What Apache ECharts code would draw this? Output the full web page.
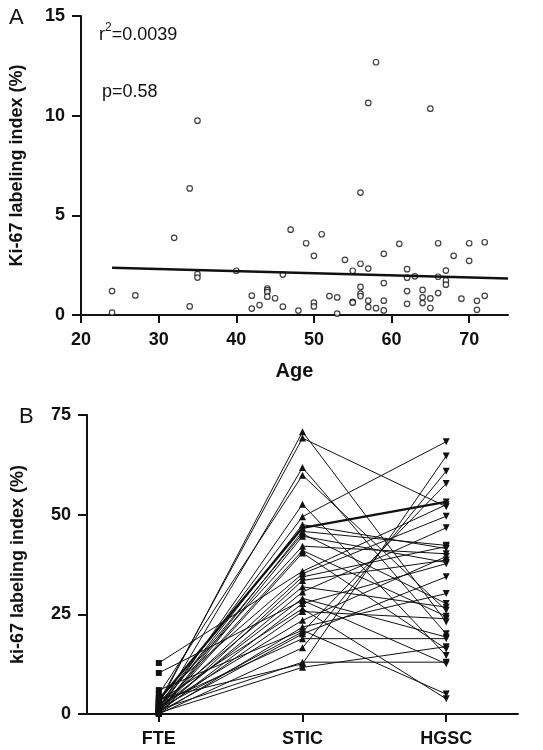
<!DOCTYPE html>
<html>
<head>
<meta charset="utf-8">
<script src="https://cdn.jsdelivr.net/npm/echarts@6/dist/echarts.min.js"></script>
<style>
html,body{margin:0;padding:0;background:#fff;}
#chart{width:543px;height:750px;}
</style>
</head>
<body>
<div id="chart"></div>
<script>
// ---------- Panel A data ----------
const ages = [24,24,27,32,34,34,35,35,35,40,
  42,42,43,44,44,44,44,45,46,46,
  47,48,49,50,50,50,51,52,53,53,
  54,55,55,55,56,56,56,56,56,57,57,57,57,
  58,58,59,59,59,59,61,62,62,62,62,63,
  64,64,64,65,65,65,66,66,66,67,67,67,
  68,69,70,70,71,71,72,72];
const kiA = [1.2,0.12,0.98,3.87,6.35,0.43,9.75,2.05,1.88,2.22,
  0.97,0.32,0.5,1.33,1.25,1.15,0.92,0.84,2.03,0.42,
  4.28,0.22,3.6,2.97,0.62,0.43,4.05,0.95,0.88,0.07,
  2.77,2.22,0.66,0.62,2.57,1.41,1.07,0.95,6.14,2.33,10.64,0.72,0.4,
  12.68,0.34,3.07,1.6,0.72,0.23,3.57,2.3,1.87,1.2,0.56,1.94,
  1.26,0.88,0.6,10.35,0.83,0.35,3.6,1.92,1.1,2.23,1.73,1.52,
  2.97,0.82,3.6,2.72,0.71,0.26,3.65,0.96];
const regAge = [24, 75];
const regVal = [2.37, 1.83];
const ticksAX = [20,30,40,50,60,70];
const ticksAY = [0,5,10,15];
const statR2 = '0.0039';
const statP = '0.58';

// ---------- Panel B data ----------
const categoriesB = ['FTE','STIC','HGSC'];
const fte  = [2.4,3.0,1.2,5.0,0.8,2.0,1.5,3.5,0.5,1.9,0.3,2.8,1.0,0.6,12.8,4.2,1.3,0.2,2.2,0.9,1.6,10.3,0.4,3.2,0.7,1.8,0.1,6.0,1.4,0.5,2.6,0.0,1.1,3.8,0.3];
const stic = [70.8,69.2,61.8,59.9,52.6,49.5,47.5,46.7,45.8,45.2,44.6,42.1,41.0,40.4,35.8,35.2,34.4,33.5,31.9,30.6,29.0,28.5,27.7,26.4,25.7,23.5,21.8,21.0,20.6,20.1,18.9,16.6,13.0,12.6,11.7];
const hgsc = [23.1,52.0,20.1,26.0,14.7,68.3,41.5,53.2,42.3,27.7,38.0,40.2,24.5,16.3,52.5,49.6,42.0,38.6,26.8,46.7,19.3,12.6,37.7,3.8,23.9,39.5,30.2,5.0,57.8,34.4,18.9,60.9,13.0,64.7,16.9];
const ticksBY = [0,25,50,75];

const FONT = 'Liberation Sans, Arial, sans-serif';
const INK = '#111';

const seriesB = fte.map((f, i) => ({
  type: 'line',
  xAxisIndex: 1, yAxisIndex: 1,
  silent: true,
  showSymbol: true,
  showAllSymbol: true,
  lineStyle: { color: INK, width: i === 7 ? 2.2 : 1 },
  itemStyle: { color: INK },
  z: 3,
  data: [
    { value: f, symbol: 'rect', symbolSize: 6 },
    { value: stic[i], symbol: 'triangle', symbolSize: 7 },
    { value: hgsc[i], symbol: 'triangle', symbolSize: 7, symbolRotate: 180 }
  ]
}));

const option = {
  animation: false,
  backgroundColor: '#fff',
  textStyle: { fontFamily: FONT },
  title: [
    { text: 'A', left: 4, top: 2, textStyle: { fontFamily: FONT, fontSize: 22, fontWeight: 'normal', color: INK } },
    { text: 'B', left: 14, top: 401, textStyle: { fontFamily: FONT, fontSize: 22, fontWeight: 'normal', color: INK } },
    { text: '{a|r}{s|2}{a|=' + statR2 + '}', left: 94, top: 17,
      textStyle: { fontWeight: 'normal', rich: {
        a: { fontFamily: FONT, fontSize: 18, fontWeight: 'normal', color: INK, lineHeight: 22, verticalAlign: 'bottom' },
        s: { fontFamily: FONT, fontSize: 12, fontWeight: 'normal', color: INK, lineHeight: 22, verticalAlign: 'top' } } } },
    { text: 'p=' + statP, left: 97, top: 78, textStyle: { fontFamily: FONT, fontSize: 18, fontWeight: 'normal', color: INK } }
  ],
  grid: [
    { left: 77, top: 16, width: 431, height: 299 },
    { left: 87, top: 415, width: 431, height: 299 }
  ],
  xAxis: [
    { type: 'value', gridIndex: 0, min: 20, max: 75, interval: 10,
      name: 'Age', nameLocation: 'middle', nameGap: 46,
      nameTextStyle: { fontFamily: FONT, fontSize: 20, fontWeight: 'bold', color: INK },
      axisLine: { show: true, onZero: false, lineStyle: { color: INK, width: 2 } },
      axisTick: { show: true, length: 8, lineStyle: { color: INK, width: 2 }, customValues: ticksAX },
      axisLabel: { margin: 16, fontFamily: FONT, fontSize: 18, fontWeight: 'bold', color: INK, customValues: ticksAX },
      splitLine: { show: false } },
    { type: 'category', gridIndex: 1, data: categoriesB, boundaryGap: true,
      axisLine: { show: true, onZero: false, lineStyle: { color: INK, width: 2 } },
      axisTick: { show: true, alignWithLabel: true, length: 8, lineStyle: { color: INK, width: 2 } },
      axisLabel: { margin: 16, fontFamily: FONT, fontSize: 18, fontWeight: 'bold', color: INK },
      splitLine: { show: false } }
  ],
  yAxis: [
    { type: 'value', gridIndex: 0, min: 0, max: 15, interval: 5,
      name: 'Ki-67 labeling index (%)', nameLocation: 'middle', nameGap: 55,
      nameTextStyle: { fontFamily: FONT, fontSize: 18, fontWeight: 'bold', color: INK },
      axisLine: { show: true, lineStyle: { color: INK, width: 2 } },
      axisTick: { show: true, length: 9, lineStyle: { color: INK, width: 2 }, customValues: ticksAY },
      axisLabel: { margin: 16, fontFamily: FONT, fontSize: 18, fontWeight: 'bold', color: INK, customValues: ticksAY },
      splitLine: { show: false } },
    { type: 'value', gridIndex: 1, min: 0, max: 75, interval: 25,
      name: 'ki-67 labeling index (%)', nameLocation: 'middle', nameGap: 60,
      nameTextStyle: { fontFamily: FONT, fontSize: 18, fontWeight: 'bold', color: INK },
      axisLine: { show: true, lineStyle: { color: INK, width: 2 } },
      axisTick: { show: true, length: 9, lineStyle: { color: INK, width: 2 }, customValues: ticksBY },
      axisLabel: { margin: 16, fontFamily: FONT, fontSize: 18, fontWeight: 'bold', color: INK, customValues: ticksBY },
      splitLine: { show: false } }
  ],
  series: [
    { type: 'scatter', xAxisIndex: 0, yAxisIndex: 0, silent: true,
      symbol: 'circle', symbolSize: 5.5,
      itemStyle: { color: '#fff', borderColor: INK, borderWidth: 1.2 },
      data: ages.map((a, i) => [a, kiA[i]]), z: 3 },
    { type: 'line', xAxisIndex: 0, yAxisIndex: 0, silent: true,
      showSymbol: false, lineStyle: { color: INK, width: 2.6 },
      data: regAge.map((a, i) => [a, regVal[i]]), z: 4 }
  ].concat(seriesB)
};

const chart = echarts.init(document.getElementById('chart'), null, { renderer: 'canvas' });
chart.setOption(option);
</script>
</body>
</html>
